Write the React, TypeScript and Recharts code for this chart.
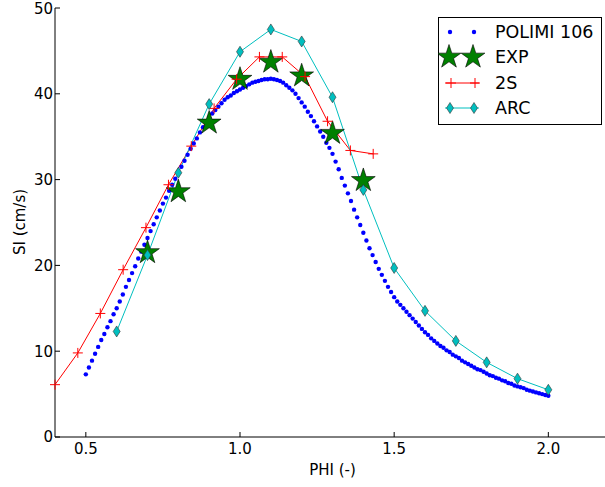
import { ComposedChart, Line, XAxis, YAxis, Legend, Label } from 'recharts';

// POLIMI 106 curve, sampled every 0.01 from PHI = 0.5 to 2.0
const polimiStart = 0.5;
const polimiStep = 0.01;
const polimiSI = [
  7.3, 8.1, 8.9, 9.7, 10.5, 11.3, 12.0, 12.8, 13.5, 14.3,
  15.0, 15.8, 16.6, 17.5, 18.3, 19.1, 19.9, 20.8, 21.6, 22.4,
  23.2, 24.0, 24.8, 25.6, 26.4, 27.2, 27.9, 28.7, 29.4, 30.1,
  30.8, 31.5, 32.2, 32.9, 33.6, 34.2, 34.8, 35.5, 36.1, 36.7,
  37.2, 37.7, 38.1, 38.5, 38.9, 39.3, 39.6, 39.8, 40.1, 40.3,
  40.5, 40.7, 40.9, 41.1, 41.3, 41.4, 41.5, 41.6, 41.7, 41.7,
  41.75, 41.7, 41.6, 41.5, 41.3, 41.0, 40.7, 40.4, 40.0, 39.5,
  39.0, 38.5, 37.9, 37.4, 36.8, 36.2, 35.6, 35.0, 34.3, 33.7,
  33.0, 32.1, 31.2, 30.2, 29.3, 28.4, 27.5, 26.5, 25.6, 24.7,
  23.8, 22.9, 22.0, 21.2, 20.4, 19.6, 18.9, 18.2, 17.5, 16.9,
  16.3, 15.8, 15.4, 15.0, 14.6, 14.2, 13.8, 13.4, 13.0, 12.6,
  12.2, 11.9, 11.5, 11.2, 10.9, 10.6, 10.4, 10.1, 9.9, 9.6,
  9.4, 9.2, 8.9, 8.7, 8.5, 8.3, 8.1, 7.9, 7.8, 7.6,
  7.4, 7.2, 7.1, 6.9, 6.8, 6.6, 6.5, 6.3, 6.2, 6.0,
  5.9, 5.8, 5.7, 5.5, 5.4, 5.3, 5.2, 5.1, 5.0, 4.9,
  4.8,
];

const expPhi = [0.7, 0.8, 0.9, 1.0, 1.1, 1.2, 1.3, 1.4];
const expSI = [21.5, 28.6, 36.6, 41.7, 43.7, 42.1, 35.4, 29.9];

const twoSPhi = [0.4, 0.474, 0.547, 0.621, 0.695, 0.768, 0.842, 0.916, 0.989, 1.063, 1.137, 1.211, 1.284, 1.358, 1.432];
const twoSSI = [6.1, 9.8, 14.4, 19.5, 24.4, 29.4, 33.9, 38.3, 41.7, 44.3, 44.3, 42.0, 36.8, 33.4, 33.0];

const arcPhi = [0.6, 0.7, 0.8, 0.9, 1.0, 1.1, 1.2, 1.3, 1.4, 1.5, 1.6, 1.7, 1.8, 1.9, 2.0];
const arcSI = [12.3, 21.2, 30.8, 38.8, 44.9, 47.5, 46.1, 39.6, 28.8, 19.7, 14.7, 11.2, 8.7, 6.8, 5.5];

const xTicks = [0.5, 1.0, 1.5, 2.0];
const yTicks = [0, 10, 20, 30, 40, 50];

const polimiData = polimiSI.map((y, i) => ({ x: +(polimiStart + i * polimiStep).toFixed(2), y }));
const expData = expPhi.map((x, i) => ({ x, y: expSI[i] }));
const twoSData = twoSPhi.map((x, i) => ({ x, y: twoSSI[i] }));
const arcData = arcPhi.map((x, i) => ({ x, y: arcSI[i] }));

const BLUE = '#0000ff';
const GREEN = '#008000';
const RED = '#ff0000';
const CYAN = '#00bfbf';

function starPath(cx: number, cy: number, R: number) {
  const r = R * 0.382;
  let d = '';
  for (let i = 0; i < 10; i++) {
    const rad = i % 2 === 0 ? R : r;
    const a = -Math.PI / 2 + (i * Math.PI) / 5;
    d += (i ? 'L' : 'M') + (cx + rad * Math.cos(a)).toFixed(2) + ',' + (cy + rad * Math.sin(a)).toFixed(2);
  }
  return d + 'Z';
}

const Star = ({ cx, cy, R = 12.5 }: any) => (
  <path d={starPath(cx, cy, R)} fill={GREEN} stroke="#000" strokeWidth={0.6} />
);

const Plus = ({ cx, cy }: any) => (
  <path d={`M${cx - 5},${cy}H${cx + 5}M${cx},${cy - 5}V${cy + 5}`} stroke={RED} strokeWidth={1} fill="none" />
);

const Diamond = ({ cx, cy }: any) => (
  <path d={`M${cx},${cy - 5.5}L${cx + 3.5},${cy}L${cx},${cy + 5.5}L${cx - 3.5},${cy}Z`} fill={CYAN} stroke="#333" strokeWidth={0.6} />
);

function LegendBox() {
  const rows = [15, 40, 66, 91];
  return (
    <svg width={164} height={108} style={{ display: 'block' }}>
      <rect x={0.5} y={0.5} width={163} height={107} fill="#fff" stroke="#000" />
      <circle cx={12} cy={rows[0]} r={2.2} fill={BLUE} />
      <circle cx={36} cy={rows[0]} r={2.2} fill={BLUE} />
      <Star cx={11} cy={rows[1]} R={12.5} />
      <Star cx={35} cy={rows[1]} R={12.5} />
      <line x1={7} x2={41} y1={rows[2]} y2={rows[2]} stroke={RED} />
      <Plus cx={13} cy={rows[2]} />
      <Plus cx={37} cy={rows[2]} />
      <line x1={7} x2={41} y1={rows[3]} y2={rows[3]} stroke={CYAN} />
      <Diamond cx={12} cy={rows[3]} />
      <Diamond cx={36} cy={rows[3]} />
      {['POLIMI 106', 'EXP', '2S', 'ARC'].map((t, i) => (
        <text key={t} x={57} y={rows[i] + 6.3} fontSize={17.5} fill="#000">{t}</text>
      ))}
    </svg>
  );
}

export default function App() {
  return (
    <div style={{ position: 'absolute', left: 0, top: 0, width: 605, height: 487, overflow: 'hidden', background: '#fff', fontFamily: '"DejaVu Sans", sans-serif' }}>
      <ComposedChart width={620} height={487} margin={{ top: 8, right: 10, bottom: 0, left: 0 }}>
        <XAxis
          dataKey="x"
          type="number"
          domain={[0.4, 2.2]}
          ticks={xTicks}
          tickFormatter={(v) => v.toFixed(1)}
          height={50}
          tickSize={-5}
          tickMargin={11}
          stroke="#000"
          tick={{ fontSize: 15, fill: '#000' }}
        >
          <Label value="PHI (-)" position="insideBottom" offset={12} style={{ fontSize: 15, fill: '#000' }} />
        </XAxis>
        <XAxis
          xAxisId="top"
          orientation="top"
          type="number"
          domain={[0.4, 2.2]}
          ticks={xTicks}
          height={0}
          tickSize={-5}
          tick={false}
          stroke="#000"
        />
        <YAxis
          type="number"
          domain={[0, 50]}
          ticks={yTicks}
          width={55}
          tickSize={-5}
          tickMargin={7}
          stroke="#000"
          tick={{ fontSize: 15, fill: '#000' }}
        >
          <Label
            content={() => (
              <text x={20} y={222} transform="rotate(-90 20 222)" textAnchor="middle" dominantBaseline="central" fontSize={15} fill="#000">
                SI (cm/s)
              </text>
            )}
          />
        </YAxis>
        <Line
          data={polimiData}
          dataKey="y"
          stroke="none"
          isAnimationActive={false}
          dot={{ r: 2.2, fill: BLUE, stroke: 'none' }}
          activeDot={false}
        />
        <Line
          data={expData}
          dataKey="y"
          stroke="none"
          isAnimationActive={false}
          dot={(p: any) => <Star key={`e${p.index}`} cx={p.cx} cy={p.cy} />}
          activeDot={false}
        />
        <Line
          data={twoSData}
          dataKey="y"
          stroke={RED}
          strokeWidth={1}
          isAnimationActive={false}
          dot={(p: any) => <Plus key={`p${p.index}`} cx={p.cx} cy={p.cy} />}
          activeDot={false}
        />
        <Line
          data={arcData}
          dataKey="y"
          stroke={CYAN}
          strokeWidth={1}
          isAnimationActive={false}
          dot={(p: any) => <Diamond key={`d${p.index}`} cx={p.cx} cy={p.cy} />}
          activeDot={false}
        />
        <Legend
          layout="horizontal"
          verticalAlign="middle"
          align="center"
          content={() => <LegendBox />}
          wrapperStyle={{ left: 438, top: 17, width: 164, height: 108 }}
        />
      </ComposedChart>
    </div>
  );
}
